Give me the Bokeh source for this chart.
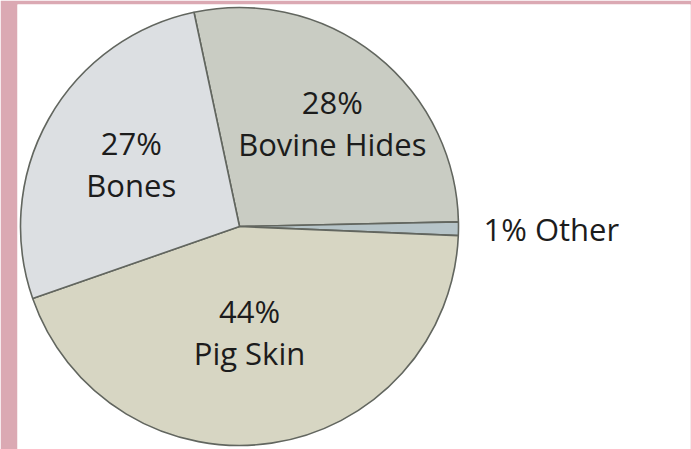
import math
from bokeh.plotting import figure
from bokeh.models import Range1d, ColumnDataSource
from bokeh.core.properties import value
from bokeh.embed import file_html
from bokeh.resources import INLINE

# ---- data ----
categories = ["Bovine Hides", "Other", "Pig Skin", "Bones"]
percent = [28, 1, 44, 27]
colors = ["#c9ccc3", "#b6c4c8", "#d7d6c3", "#dcdfe2"]

# ---- layout / style ----
W, H = 691, 449
start_deg = 102.0          # boundary between Bones and Bovine Hides
cx, cy = 239, H - 226      # pie centre (data = pixels)
radius = 219
label_dist = [139, 244, 106, 125]
label_nudge = [-3.5, 0.0, -3.0, -0.6]
font = value("Open Sans")
fsize = "31px"

starts, ends, mids = [], [], []
acc = 0.0
for v in percent:
    a0 = start_deg - acc * 3.6
    acc += v
    a1 = start_deg - acc * 3.6
    starts.append(math.radians(a0))
    ends.append(math.radians(a1))
    mids.append((a0 + a1) / 2)

src = ColumnDataSource(dict(cat=categories, pct=percent, color=colors,
                            start=starts, end=ends))

p = figure(width=W, height=H, output_backend="svg", toolbar_location=None,
           x_range=Range1d(17, W - 1), y_range=Range1d(0, H - 4),
           min_border_left=17, min_border_right=1, min_border_top=4,
           min_border_bottom=0)
p.axis.visible = False
p.grid.visible = False
p.outline_line_color = None
p.background_fill_color = "white"
p.border_fill_color = "#dba9b3"

p.wedge(x=cx, y=cy, radius=radius, radius_units="screen",
        start_angle="start", end_angle="end", direction="clock",
        fill_color="color", line_color="#62665f", line_width=1.6, source=src)

# labels
for i, (cat, v) in enumerate(zip(categories, percent)):
    a = math.radians(mids[i] + label_nudge[i])
    lx = cx + label_dist[i] * math.cos(a)
    ly = cy + label_dist[i] * math.sin(a)
    if cat == "Other":
        p.text(x=[lx], y=[ly], text=[f"{v}% {cat}"], text_font=font,
               text_font_size=fsize, text_align="left", text_baseline="middle",
               text_color="#1c1c1c")
    else:
        p.text(x=[lx], y=[ly], text=[f"{v}%"], y_offset=-21, text_font=font,
               text_font_size=fsize, text_align="center", text_baseline="middle",
               text_color="#1c1c1c")
        p.text(x=[lx], y=[ly], text=[cat], y_offset=21, text_font=font,
               text_font_size=fsize, text_align="center", text_baseline="middle",
               text_color="#1c1c1c")

open("out.html", "w").write(file_html(p, INLINE))
